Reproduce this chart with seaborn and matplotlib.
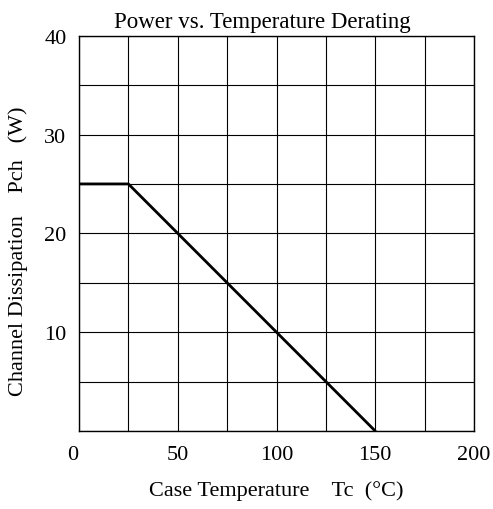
import matplotlib
matplotlib.use("Agg")
import matplotlib.pyplot as plt
import matplotlib.transforms as mtrans
import seaborn as sns
import pandas as pd

temps = [0, 25, 150]
power = [25, 25, 0]
xticks = [0, 50, 100, 150, 200]
yticks = [10, 20, 30, 40]

sns.set_theme(style="white")
plt.rcParams['font.family'] = ['Liberation Serif', 'DejaVu Serif']

fig = plt.figure(figsize=(4.93, 5.10), dpi=100)
ax = fig.add_axes([79/493, 1-432/510, (474-79)/493, (432-36.7)/510])

df = pd.DataFrame({"Tc": temps, "Pch": power})
sns.lineplot(data=df, x="Tc", y="Pch", ax=ax, color="black", linewidth=2, sort=False, zorder=3)

ax.set_xlim(0, 200)
ax.set_ylim(0, 40)
ax.set_xticks(range(0, 201, 25), minor=False)
ax.set_yticks(range(0, 41, 5))
ax.set_xticklabels([str(v) if v in xticks else "" for v in range(0, 201, 25)])
ax.set_yticklabels([str(v) if v in yticks else "" for v in range(0, 41, 5)])
ax.grid(True, color="black", linewidth=0.8)
ax.tick_params(axis="x", length=0, labelsize=16, colors="black", pad=10)
ax.tick_params(axis="y", length=0, labelsize=16, colors="black", pad=9)
for s in ax.spines.values():
    s.set_color("black")
    s.set_linewidth(1)

# nudge the "0" label slightly left as in the reference
lbl0 = ax.get_xticklabels()[0]
lbl0.set_transform(lbl0.get_transform() + mtrans.ScaledTranslation(-6/100, 0, fig.dpi_scale_trans))

ax.set_title("Power vs. Temperature Derating", fontsize=16.5, pad=6, color="black", x=0.463)
ax.set_xlabel("Case Temperature    Tc  (°C)", fontsize=16, labelpad=12, color="black")
ax.set_ylabel("Channel Dissipation    Pch   (W)", fontsize=16, color="black")
ax.yaxis.set_label_coords(-0.13, 0.458)

fig.savefig("out.png", dpi=100)
